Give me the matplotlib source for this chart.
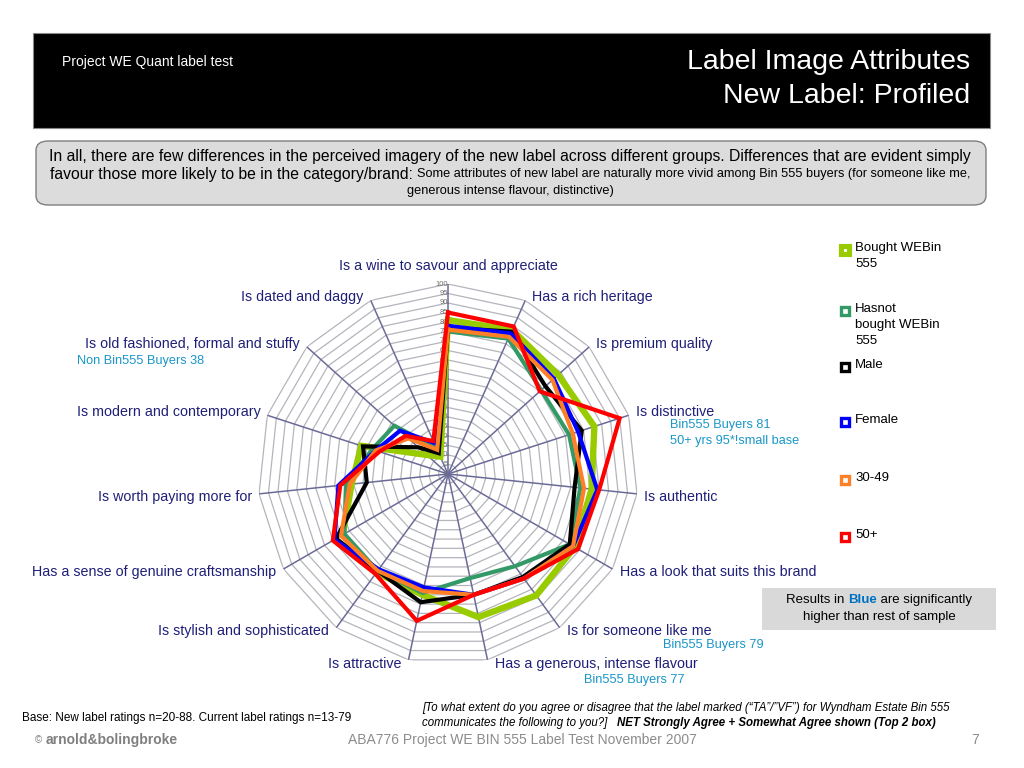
import numpy as np
import matplotlib
matplotlib.use("Agg")
import matplotlib.pyplot as plt
from matplotlib import font_manager
from matplotlib.patches import Rectangle, FancyBboxPatch

# ---- data ----
categories = ["Is a wine to savour and appreciate", "Has a rich heritage", "Is premium quality",
              "Is distinctive", "Is authentic", "Has a look that suits this brand",
              "Is for someone like me", "Has a generous, intense flavour", "Is attractive",
              "Is stylish and sophisticated", "Has a sense of genuine craftsmanship",
              "Is worth paying more for", "Is modern and contemporary",
              "Is old fashioned, formal and stuffy", "Is dated and daggy"]

bought = [81, 83, 78, 81, 76, 77, 79, 77, 65, 64, 64, 51, 48, 15, 10]
not_bought = [75, 78, 66, 67, 70, 74, 60, 56, 64, 63, 63, 54, 42, 38, 15]
male = [77, 82, 69, 74, 67, 74, 67, 65, 69, 63, 68, 43, 47, 21, 12]
female = [78, 81, 75, 72, 79, 76, 68, 65, 61, 62, 69, 58, 40, 34, 18]
age_30_49 = [76, 79, 74, 69, 72, 76, 68, 65, 63, 63, 65, 52, 40, 28, 14]
age_50 = [85, 85, 65, 95, 80, 79, 68, 65, 79, 65, 70, 57, 38, 30, 19]

series_names = ["Bought WEBin\n555", "Hasnot\nbought WEBin\n555", "Male", "Female", "30-49", "50+"]
series_values = [bought, not_bought, male, female, age_30_49, age_50]
series_colors = ["#99CC00", "#339966", "#000000", "#0000FF", "#FF7F27", "#FF0000"]
series_widths = [4.6, 3.0, 3.0, 3.0, 3.0, 3.0]

ticks = list(range(0, 101, 5))

W, H = 1024, 768


def fx(x):
    return x / W


def fy(y):
    return 1 - y / H


names = {f.name for f in font_manager.fontManager.ttflist}
narrow = "Liberation Sans Narrow" if "Liberation Sans Narrow" in names else "Liberation Sans"
plt.rcParams["font.family"] = ["Liberation Sans", "DejaVu Sans"]

fig = plt.figure(figsize=(10.24, 7.68), dpi=100)
fig.patch.set_facecolor("white")

# ---- header ----
fig.patches.append(Rectangle((fx(33), fy(128)), fx(990) - fx(33), fy(33) - fy(128),
                             transform=fig.transFigure, facecolor="black", edgecolor="#888888", lw=0.8))
fig.text(fx(62), fy(62), "Project WE Quant label test", color="white", fontsize=10,
         family=narrow, va="center", ha="left")
fig.text(fx(970), fy(62), "Label Image Attributes", color="white", fontsize=20.5,
         family=narrow, va="center", ha="right")
fig.text(fx(970), fy(96), "New Label: Profiled", color="white", fontsize=20.5,
         family=narrow, va="center", ha="right")

# ---- summary box ----
fig.patches.append(FancyBboxPatch((fx(36), fy(205)), fx(986) - fx(36), fy(141) - fy(205),
                                  boxstyle="round,pad=0,rounding_size=0.012",
                                  transform=fig.transFigure, facecolor="#DCDCDC",
                                  edgecolor="#7F7F7F", lw=1.0))
fig.text(fx(510), fy(156), "In all, there are few differences in the perceived imagery of the new label "
         "across different groups. Differences that are evident simply",
         fontsize=11.3, family=narrow, ha="center", va="center")
p1 = fig.text(0, fy(174), "favour those more likely to be in the category/brand: ",
              fontsize=11.3, family=narrow, ha="left", va="center")
p2 = fig.text(0, fy(174), "Some attributes of new label are naturally more vivid among Bin 555 buyers "
              "(for someone like me,", fontsize=9.2, family=narrow, ha="left", va="center")
fig.text(fx(510), fy(191), "generous intense flavour, distinctive)", fontsize=9.2, family=narrow,
         ha="center", va="center")
r = fig.canvas.get_renderer()
w1 = p1.get_window_extent(r).width
w2 = p2.get_window_extent(r).width
x0 = 510 - (w1 + w2) / 2
p1.set_x(fx(x0))
p2.set_x(fx(x0 + w1))

# ---- radar chart ----
cx, cy, R = 448, 474, 190
ax = fig.add_axes([fx(cx - R), fy(cy + R), 2 * R / W, 2 * R / H], projection="polar")
ax.set_theta_offset(np.pi / 2)
ax.set_theta_direction(-1)
ax.set_ylim(0, 100)
ax.axis("off")

n = len(categories)
angles = np.arange(n) * 2 * np.pi / n
ang_c = np.append(angles, angles[0])

for v in ticks[1:]:
    ax.plot(ang_c, [v] * (n + 1), color="#B4B4BC", lw=0.9, zorder=1)
for a in angles:
    ax.plot([a, a], [0, 100], color="#6B6B98", lw=1.1, zorder=2)
for v in ticks:
    ax.text(0, v, str(v), fontsize=5.5, color="#707070", ha="right", va="center", zorder=2)

for vals, col, lw in zip(series_values, series_colors, series_widths):
    ax.plot(ang_c, vals + vals[:1], color=col, lw=lw, solid_joinstyle="miter", zorder=3)

label_color = "#1F1F78"
for k, (a, lab) in enumerate(zip(angles, categories)):
    s = np.sin(a)
    if k == 0:
        ax.annotate(lab, (a, 100), xytext=(0, 18), textcoords="offset pixels",
                    ha="center", va="center", fontsize=10.3, color=label_color)
        continue
    ha = "left" if s > 0 else "right"
    dx = 7 if s > 0 else -7
    dy = 3 if np.cos(a) > 0 else -3
    if k in (7, 8):
        dy = -4
    ax.annotate(lab, (a, 100), xytext=(dx, dy), textcoords="offset pixels",
                ha=ha, va="center", fontsize=10.3, color=label_color)

# call-outs
note_color = "#1A96C8"
fig.text(fx(77), fy(361), f"Non Bin555 Buyers {not_bought[13]}", fontsize=9.2, color=note_color, va="center")
fig.text(fx(670), fy(425), f"Bin555 Buyers {bought[3]}", fontsize=9.2, color=note_color, va="center")
fig.text(fx(670), fy(441), f"50+ yrs {age_50[3]}*!small base", fontsize=9.2, color=note_color, va="center")
fig.text(fx(663), fy(645), f"Bin555 Buyers {bought[6]}", fontsize=9.2, color=note_color, va="center")
fig.text(fx(584), fy(680), f"Bin555 Buyers {bought[7]}", fontsize=9.2, color=note_color, va="center")

# ---- legend ----
leg_y = [250, 311, 367, 422, 480, 537]
for name, col, lw, y in zip(series_names, series_colors, series_widths, leg_y):
    fig.patches.append(Rectangle((fx(841), fy(y + 4)), 8 / W, 8 / H, transform=fig.transFigure,
                                 facecolor="white", edgecolor=col, lw=lw * 0.8))
    fig.text(fx(855), fy(y - 8), name, fontsize=9.5, va="top", ha="left", linespacing=1.45)

# ---- significance box ----
fig.patches.append(Rectangle((fx(762), fy(630)), fx(996) - fx(762), fy(588) - fy(630),
                             transform=fig.transFigure, facecolor="#D9D9D9", edgecolor="none"))
q1 = fig.text(0, fy(600), "Results in ", fontsize=9.5, va="center", ha="left")
q2 = fig.text(0, fy(600), "Blue", fontsize=9.5, va="center", ha="left", color="#0070C0", weight="bold")
q3 = fig.text(0, fy(600), " are significantly", fontsize=9.5, va="center", ha="left")
ws = [t.get_window_extent(r).width for t in (q1, q2, q3)]
xs = 879 - sum(ws) / 2
for t, w in zip((q1, q2, q3), ws):
    t.set_x(fx(xs))
    xs += w
fig.text(fx(879), fy(617), "higher than rest of sample", fontsize=9.5, va="center", ha="center")

# ---- footer ----
fig.text(fx(22), fy(718), "Base: New label ratings n=20-88. Current label ratings n=13-79",
         fontsize=8.5, family=narrow, va="center")
fig.text(fx(422), fy(708), "[To what extent do you agree or disagree that the label marked (\u201cTA\u201d/\u201dVF\u201d) "
         "for Wyndham Estate Bin 555", fontsize=8.3, family=narrow, style="italic", va="center")
f1 = fig.text(fx(422), fy(723), "communicates the following to you?]   ", fontsize=8.3, family=narrow,
              style="italic", va="center")
f2 = fig.text(0, fy(723), "NET Strongly Agree + Somewhat Agree shown (Top 2 box)", fontsize=8.3,
              family=narrow, style="italic", weight="bold", va="center")
f2.set_x(fx(422 + f1.get_window_extent(r).width))

fig.text(fx(35), fy(740), "\u00a9", fontsize=7, color="#7F7F7F", va="center")
fig.text(fx(46), fy(740), "arnold&bolingbroke", fontsize=10, color="#7F7F7F", weight="bold", va="center")
fig.text(fx(522), fy(740), "ABA776 Project WE BIN 555 Label Test November 2007", fontsize=10,
         color="#8C8C8C", family=narrow, ha="center", va="center")
fig.text(fx(975), fy(740), "7", fontsize=10, color="#8C8C8C", ha="center", va="center")

fig.savefig("out.png", dpi=100)
